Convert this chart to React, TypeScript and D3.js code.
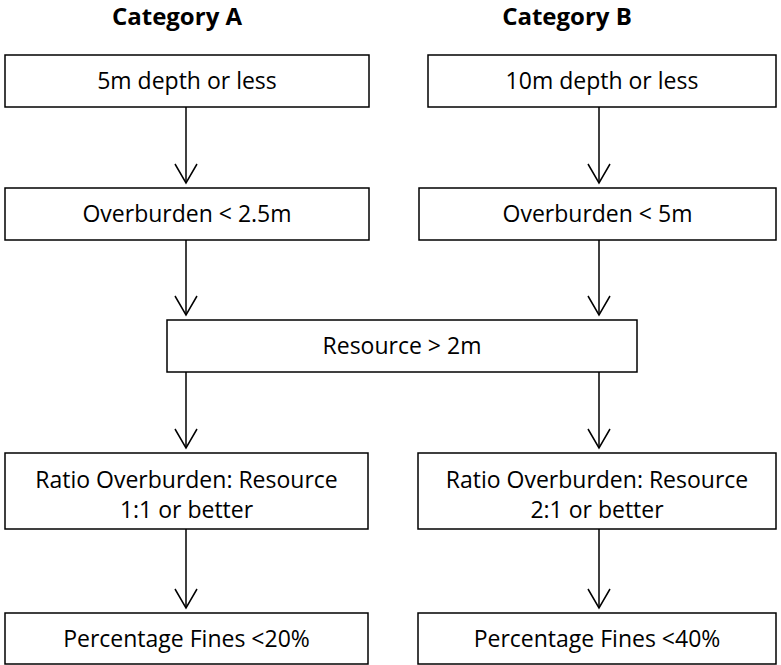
import React, { useEffect, useRef } from 'react'
import { select, scaleOrdinal } from 'd3'

// Data
const categories = ['Category A', 'Category B']
const depthCriteria = ['5m depth or less', '10m depth or less']
const overburdenCriteria = ['Overburden < 2.5m', 'Overburden < 5m']
const sharedCriterion = 'Resource > 2m'
const ratioCriteria = [
    ['Ratio Overburden: Resource', '1:1 or better'],
    ['Ratio Overburden: Resource', '2:1 or better'],
]
const finesCriteria = ['Percentage Fines <20%', 'Percentage Fines <40%']

const WIDTH = 781
const HEIGHT = 665
const FONT = '"Open Sans", Lato, sans-serif'

// Layout (rows top/height, column extents per row)
const rowTop = [55, 188, 320, 453, 613]
const rowHeight = [52, 52, 52, 76, 51]
const colLeft = [
    [5, 428],
    [5, 419],
    [167, 167],
    [5, 418],
    [5, 418],
]
const colRight = [
    [369, 776],
    [369, 776],
    [637, 637],
    [368, 776],
    [368, 776],
]

const arrowX = scaleOrdinal<string, number>().domain(categories).range([186, 599])
const titleX = scaleOrdinal<string, number>().domain(categories).range([177, 567])

const App = () => {
    const svgRef = useRef<SVGSVGElement>(null)

    useEffect(() => {
        const svg = select(svgRef.current)
        svg.selectAll('*').remove()

        // Boxes
        const boxes: { row: number; x0: number; x1: number; lines: string[] }[] = []
        categories.forEach((c, i) => {
            boxes.push({ row: 0, x0: colLeft[0][i], x1: colRight[0][i], lines: [depthCriteria[i]] })
            boxes.push({ row: 1, x0: colLeft[1][i], x1: colRight[1][i], lines: [overburdenCriteria[i]] })
            boxes.push({ row: 3, x0: colLeft[3][i], x1: colRight[3][i], lines: ratioCriteria[i] })
            boxes.push({ row: 4, x0: colLeft[4][i], x1: colRight[4][i], lines: [finesCriteria[i]] })
        })
        boxes.push({ row: 2, x0: colLeft[2][0], x1: colRight[2][0], lines: [sharedCriterion] })

        const g = svg.selectAll('g.box')
            .data(boxes)
            .join('g')
            .attr('class', 'box')

        g.append('rect')
            .attr('x', d => d.x0)
            .attr('y', d => rowTop[d.row])
            .attr('width', d => d.x1 - d.x0)
            .attr('height', d => rowHeight[d.row])
            .attr('fill', '#fff')
            .attr('stroke', '#000')
            .attr('stroke-width', 1.5)

        g.each(function (d) {
            const cx = (d.x0 + d.x1) / 2
            const cy = rowTop[d.row] + rowHeight[d.row] / 2
            const lh = 30
            const n = d.lines.length
            d.lines.forEach((t, k) => {
                select(this).append('text')
                    .attr('x', cx)
                    .attr('y', cy + 8 + (k - (n - 1) / 2) * lh + (n > 1 ? 4 : 0))
                    .attr('text-anchor', 'middle')
                    .attr('font-family', FONT)
                    .attr('font-size', 23)
                    .attr('fill', '#000')
                    .text(t)
            })
        })

        // Arrows between rows
        const arrows: { x: number; from: number; to: number }[] = []
        categories.forEach(c => {
            for (let r = 0; r < 4; r++) {
                arrows.push({ x: arrowX(c), from: rowTop[r] + rowHeight[r], to: rowTop[r + 1] - 5 })
            }
        })

        const a = svg.selectAll('g.arrow')
            .data(arrows)
            .join('g')
            .attr('class', 'arrow')
            .attr('fill', 'none')
            .attr('stroke', '#000')
            .attr('stroke-width', 1.5)

        a.append('line')
            .attr('x1', d => d.x)
            .attr('x2', d => d.x)
            .attr('y1', d => d.from)
            .attr('y2', d => d.to)

        a.append('path')
            .attr('d', d => `M${d.x - 11},${d.to - 19}L${d.x},${d.to}L${d.x + 11},${d.to - 19}`)

        // Category titles
        svg.selectAll('text.title')
            .data(categories)
            .join('text')
            .attr('class', 'title')
            .attr('x', d => titleX(d))
            .attr('y', 25)
            .attr('text-anchor', 'middle')
            .attr('font-family', FONT)
            .attr('font-weight', 'bold')
            .attr('font-size', 24)
            .attr('fill', '#000')
            .text(d => d)
    }, [])

    return (
        <svg
            ref={svgRef}
            width={WIDTH}
            height={HEIGHT}
            style={{ position: 'absolute', left: 0, top: 0, background: '#fff' }}
        />
    )
}

export default App
